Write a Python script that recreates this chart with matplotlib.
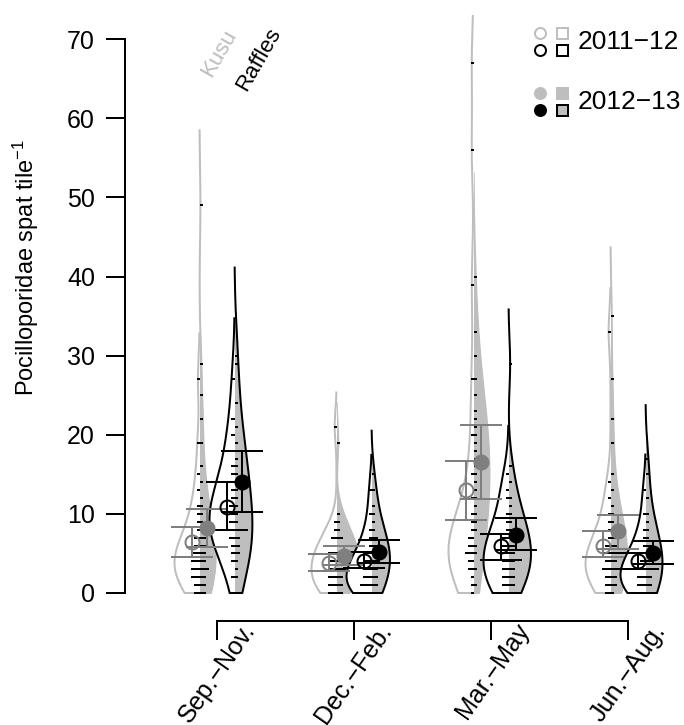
import numpy as np
import matplotlib
matplotlib.use("Agg")
import matplotlib.pyplot as plt
from matplotlib.lines import Line2D
from matplotlib.transforms import blended_transform_factory

plt.rcParams['font.family'] = ['Liberation Sans', 'DejaVu Sans']
plt.rcParams['mathtext.fontset'] = 'custom'
plt.rcParams['mathtext.rm'] = 'Liberation Sans'
plt.rcParams['mathtext.default'] = 'regular'

# ---------------- data ----------------
seasons = ["Sep.\u2212Nov.", "Dec.\u2212Feb.", "Mar.\u2212May", "Jun.\u2212Aug."]
sites = ["Kusu", "Raffles"]
years = ["2011\u221212", "2012\u221213"]

# spat counts per tile (rug marks), one list per season
kusu_1112 = [
    [0, 0, 1, 1, 2, 2, 2, 3, 3, 3, 4, 4, 4, 5, 5, 5, 6, 6, 7, 7, 8, 9, 10, 11, 13, 15, 19, 27],
    [0, 0, 0, 1, 1, 1, 2, 2, 2, 3, 3, 3, 4, 4, 4, 5, 5, 5, 6, 6, 7, 7, 8, 9, 21],
    [0, 1, 2, 3, 3, 4, 4, 5, 5, 5, 6, 6, 7, 7, 8, 9, 10, 12, 15, 20, 27, 39, 56, 67],
    [0, 0, 1, 1, 2, 2, 3, 3, 3, 4, 4, 5, 5, 5, 6, 6, 7, 8, 9, 10, 12, 14, 33],
]
kusu_1213 = [
    [0, 0, 1, 1, 2, 2, 3, 3, 3, 4, 4, 5, 5, 6, 6, 7, 7, 8, 9, 10, 11, 12, 14, 16, 19, 22, 25, 29, 49],
    [0, 0, 1, 1, 2, 2, 3, 3, 3, 4, 4, 5, 5, 5, 6, 6, 7, 7, 8, 9, 10, 19],
    [1, 3, 5, 6, 8, 9, 10, 11, 12, 13, 14, 15, 16, 17, 18, 19, 20, 21, 22, 23, 25, 27, 30, 33, 40],
    [0, 1, 1, 2, 2, 3, 3, 4, 4, 5, 5, 6, 6, 7, 7, 8, 9, 10, 11, 13, 15, 19, 22, 27, 35],
]
raffles_1112 = [
    [2, 4, 5, 6, 7, 7, 8, 8, 9, 9, 10, 10, 11, 11, 12, 13, 14, 15, 16, 18, 20, 22, 27],
    [0, 0, 0, 1, 1, 1, 1, 2, 2, 2, 3, 3, 3, 4, 4, 5, 5, 6, 7, 8, 10, 13],
    [0, 0, 1, 1, 2, 2, 3, 3, 4, 4, 5, 5, 6, 6, 7, 7, 8, 9, 10, 12, 13, 15],
    [0, 0, 0, 1, 1, 1, 2, 2, 2, 3, 3, 3, 4, 4, 5, 5, 6, 7, 8, 10, 13],
]
raffles_1213 = [
    [2, 3, 4, 5, 5, 6, 6, 7, 7, 8, 8, 9, 10, 11, 12, 13, 14, 15, 16, 17, 18, 19, 21, 24, 29, 30],
    [0, 0, 1, 1, 2, 2, 3, 3, 4, 4, 5, 5, 5, 6, 6, 7, 7, 8, 9, 10, 11, 13, 15],
    [0, 1, 1, 2, 2, 3, 3, 4, 4, 5, 5, 6, 6, 7, 7, 8, 8, 9, 10, 11, 12, 14, 16, 29],
    [0, 0, 1, 1, 2, 2, 3, 3, 4, 4, 5, 5, 6, 6, 7, 8, 9, 10, 12, 15, 17],
]

# means and 95% confidence limits
kusu_1112_mean = [6.5, 3.8, 13.0, 6.0]
kusu_1112_lo = [4.6, 2.8, 9.2, 4.5]
kusu_1112_hi = [8.3, 4.9, 16.7, 7.8]
kusu_1213_mean = [8.2, 4.7, 16.6, 7.8]
kusu_1213_lo = [5.8, 3.5, 11.9, 5.5]
kusu_1213_hi = [10.6, 5.9, 21.3, 9.9]
raffles_1112_mean = [10.9, 4.1, 5.9, 4.1]
raffles_1112_lo = [8.0, 3.1, 4.2, 3.0]
raffles_1112_hi = [14.0, 5.2, 7.5, 5.1]
raffles_1213_mean = [14.0, 5.2, 7.3, 5.0]
raffles_1213_lo = [10.2, 3.8, 5.4, 3.7]
raffles_1213_hi = [17.9, 6.7, 9.5, 6.6]

# ---------------- style ----------------
LIGHT = "#BEBEBE"
MID = "#7F7F7F"
FS = 18
W, H = 684, 725
PX = 0.72  # points per pixel at dpi 100
BW_ADJ = 1.4
CUT = 2.2

fig = plt.figure(figsize=(W / 100, H / 100), dpi=100)
ax_l, ax_r, ax_t, ax_b = 125, 684, 15, 621
ax = fig.add_axes([ax_l / W, 1 - ax_b / H, (ax_r - ax_l) / W, (ax_b - ax_t) / H])

x_step = 137.0           # px per group
x0_px = 217.0            # px of first group
y0_px, ppu = 593.0, (593.0 - 39.3) / 70.0
ax.set_xlim(1 + (ax_l - x0_px) / x_step, 1 + (ax_r - x0_px) / x_step)
ax.set_ylim(-(ax_b - y0_px) / ppu, (y0_px - ax_t) / ppu)

site_off = 17.5 / x_step
mean_off = 7.5 / x_step
ll = 3.0 / x_step
bean_half = 25.0 / x_step


def bw_nrd0(x):
    x = np.asarray(x, float)
    sd = x.std(ddof=1)
    q75, q25 = np.percentile(x, [75, 25])
    lo = min(sd, (q75 - q25) / 1.34)
    if lo <= 0:
        lo = sd
    return 0.9 * lo * len(x) ** -0.2


def density(x):
    x = np.asarray(x, float)
    bw = bw_nrd0(x) * BW_ADJ
    grid = np.linspace(0, x.max() + CUT * bw, 500)
    z = (grid[:, None] - x[None, :]) / bw
    d = np.exp(-0.5 * z ** 2).sum(1) / (len(x) * bw * np.sqrt(2 * np.pi))
    return grid, d


def draw_half(xc, grid, d, side, sc, face, edge, z):
    xs = xc + side * d * sc
    ax.fill_betweenx(grid, xc, xs, color=face, lw=0, zorder=z)
    if edge is not None:
        ax.plot(np.r_[xc, xs], np.r_[grid[0], grid], color=edge, lw=2 * PX,
                zorder=z + 0.1, solid_joinstyle='round')


def draw_rug(xc, data, side, z):
    vals, cnts = np.unique(data, return_counts=True)
    for v, c in zip(vals, cnts):
        ax.plot([xc, xc + side * ll * c], [v, v], color='black', lw=2 * PX,
                solid_capstyle='butt', zorder=z)


def draw_bean(xc, first, second, edge_first, edge_second, z):
    g1, d1 = density(first)
    g2, d2 = density(second)
    sc = bean_half / max(d1.max(), d2.max())
    draw_half(xc, g2, d2, +1, sc, LIGHT, edge_second, z)
    draw_half(xc, g1, d1, -1, sc, "white", edge_first, z + 0.2)
    draw_rug(xc, first, -1, z + 0.5)
    draw_rug(xc, second, +1, z + 0.5)


for s in range(4):
    draw_bean(1 + s - site_off, kusu_1112[s], kusu_1213[s], LIGHT, LIGHT, 2)
    draw_bean(1 + s + site_off, raffles_1112[s], raffles_1213[s], "black", "black", 3)

pos = np.arange(1, 5)
ekw = dict(capsize=15, elinewidth=2 * PX, capthick=2 * PX, zorder=5, ms=14 * PX)
for (m, lo, hi, xo, col, filled) in [
    (kusu_1112_mean, kusu_1112_lo, kusu_1112_hi, -site_off - mean_off, MID, False),
    (kusu_1213_mean, kusu_1213_lo, kusu_1213_hi, -site_off + mean_off, MID, True),
    (raffles_1112_mean, raffles_1112_lo, raffles_1112_hi, site_off - mean_off, 'black', False),
    (raffles_1213_mean, raffles_1213_lo, raffles_1213_hi, site_off + mean_off, 'black', True),
]:
    m = np.array(m); lo = np.array(lo); hi = np.array(hi)
    ax.errorbar(pos + xo, m, yerr=[m - lo, hi - m], fmt='o', color=col, ecolor=col,
                mec=col, mfc=col if filled else 'none', mew=2 * PX, **ekw)

# axes
for sp in ['top', 'right']:
    ax.spines[sp].set_visible(False)
ax.spines['left'].set_bounds(0, 70)
ax.spines['bottom'].set_bounds(1, 4)
for sp in ['left', 'bottom']:
    ax.spines[sp].set_linewidth(2 * PX)
ax.set_yticks(np.arange(0, 71, 10))
ax.set_xticks(pos)
ax.set_xticklabels([])
ax.tick_params(axis='both', direction='out', length=19 * PX, width=2 * PX,
               labelsize=FS)
ax.tick_params(axis='y', pad=8)

bt = blended_transform_factory(ax.transData, fig.transFigure)
for i, lab in enumerate(seasons):
    ax.text(pos[i] + 33 / x_step, 1 - 626 / H, lab, transform=bt, rotation=55,
            rotation_mode='anchor', ha='right', va='center', fontsize=FS, clip_on=False)

# site labels
ax.text(1 - site_off + 12 / x_step, 1 - 78 / H, sites[0], transform=bt, rotation=60,
        rotation_mode='anchor', ha='left', va='baseline', fontsize=16, color=LIGHT)
ax.text(1 + site_off + 12 / x_step, 1 - 92 / H, sites[1], transform=bt, rotation=60,
        rotation_mode='anchor', ha='left', va='baseline', fontsize=16, color='black')

# y label
fig.text(26 / W, 1 - 268 / H, "Pocilloporidae spat tile$^{\u22121}$", rotation=90,
         ha='center', va='center', fontsize=17)


# legend
def fpt(x, y):
    return x / W, 1 - y / H


def glyph(x, y, marker, mfc, mec, ms=11):
    fx, fy = fpt(x, y)
    fig.add_artist(Line2D([fx], [fy], transform=fig.transFigure, marker=marker, ms=ms * PX,
                          mfc=mfc, mec=mec, mew=2 * PX, ls='none'))


glyph(540, 33, 'o', 'none', LIGHT)
glyph(562, 33, 's', 'none', LIGHT)
glyph(540, 50, 'o', 'none', 'black')
glyph(562, 50, 's', 'none', 'black')
fig.text(*fpt(578, 42), years[0], ha='left', va='center', fontsize=19)
glyph(540, 93, 'o', LIGHT, LIGHT)
glyph(562, 93, 's', LIGHT, LIGHT)
glyph(540, 110, 'o', 'black', 'black')
glyph(562, 110, 's', LIGHT, 'black')
fig.text(*fpt(578, 102), years[1], ha='left', va='center', fontsize=19)

fig.savefig("out.png", dpi=100)
